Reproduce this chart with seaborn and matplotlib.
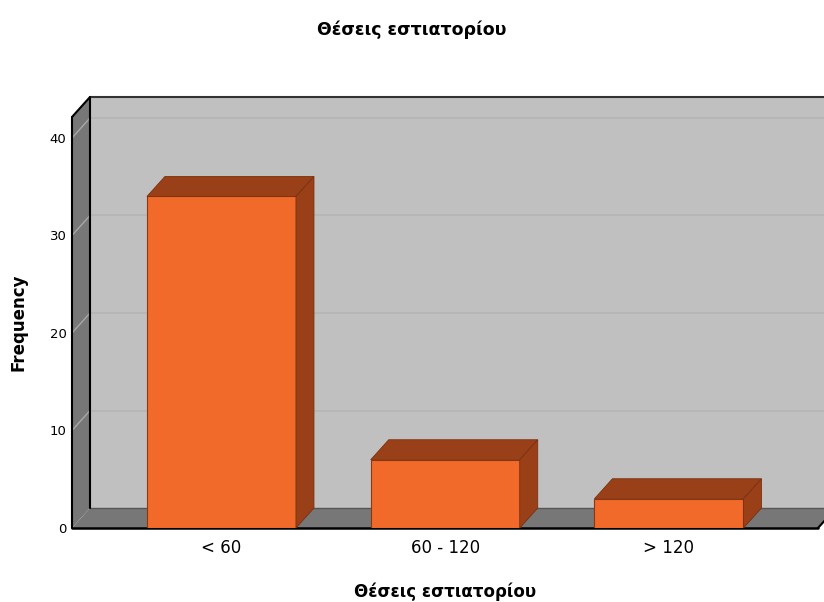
import matplotlib
matplotlib.use("Agg")
import matplotlib.pyplot as plt
import seaborn as sns
import pandas as pd
from matplotlib.patches import Polygon, Rectangle

categories = ["< 60", "60 - 120", "> 120"]
frequencies = [34, 7, 3]
title = "Θέσεις εστιατορίου"
x_label = "Θέσεις εστιατορίου"
y_label = "Frequency"
y_ticks = [0, 10, 20, 30, 40]

sns.set_theme(style="white")
plt.rcParams["font.family"] = ["DejaVu Sans"]
plt.rcParams["text.color"] = "black"
plt.rcParams["xtick.color"] = "black"
plt.rcParams["ytick.color"] = "black"

df = pd.DataFrame({"cat": categories, "freq": frequencies})

W, H = 824, 602
fig = plt.figure(figsize=(W / 100, H / 100), dpi=100)
ax = fig.add_axes([72 / W, (H - 528) / H, (818 - 72) / W, (528 - 117) / H])

xmin, xmax = -0.668, 2.666
ymin, ymax = 0, 42.15
dx, dy = 0.0804, 2.05

front = "#f26a2a"
dark = "#9a4019"
wall = "#c0c0c0"
side = "#777777"

# back wall
ax.add_patch(Rectangle((xmin + dx, dy), (xmax - xmin), ymax, facecolor=wall,
                       edgecolor="none", clip_on=False, zorder=0))
# back wall gridlines
for v in y_ticks[1:]:
    ax.plot([xmin + dx, xmax + dx], [v + dy, v + dy], color="#b4b4b4", lw=1.2,
            clip_on=False, zorder=0.5)
# left wall
ax.add_patch(Polygon([(xmin, 0), (xmin + dx, dy), (xmin + dx, ymax + dy), (xmin, ymax)],
                     closed=True, facecolor=side, edgecolor="none", clip_on=False, zorder=1))
for v in y_ticks[1:]:
    ax.plot([xmin, xmin + dx], [v, v + dy], color="#a8a8a8", lw=1, clip_on=False, zorder=1.2)
# floor
ax.add_patch(Polygon([(xmin, 0), (xmax, 0), (xmax + dx, dy), (xmin + dx, dy)],
                     closed=True, facecolor=side, edgecolor="none", clip_on=False, zorder=1))
# edges
ax.plot([xmin + dx, xmax + dx], [dy, dy], color="#555555", lw=1, clip_on=False, zorder=1.5)
ax.plot([xmin + dx, xmin + dx], [dy, ymax + dy], color="black", lw=1.5, clip_on=False, zorder=1.5)
ax.plot([xmin + dx, xmax + dx], [ymax + dy, ymax + dy], color="#333333", lw=1.5, clip_on=False, zorder=1.5)
ax.plot([xmin, xmin + dx], [ymax, ymax + dy], color="black", lw=1.5, clip_on=False, zorder=1.5)
ax.plot([xmin, xmin], [0, ymax], color="black", lw=1.5, clip_on=False, zorder=1.5)
ax.plot([xmin, xmax], [0, 0], color="black", lw=1.8, clip_on=False, zorder=1.5)
ax.plot([xmax, xmax + dx], [0, dy], color="black", lw=1.5, clip_on=False, zorder=1.5)

sns.barplot(data=df, x="cat", y="freq", ax=ax, color=front, saturation=1,
            width=0.666, edgecolor="#8a3812", linewidth=0.8, zorder=3)

for p in ax.patches:
    if not isinstance(p, Rectangle) or p.get_zorder() != 3:
        continue
    x0 = p.get_x(); w = p.get_width(); h = p.get_height()
    top = Polygon([(x0, h), (x0 + dx, h + dy), (x0 + w + dx, h + dy), (x0 + w, h)],
                  closed=True, facecolor=dark, edgecolor="#7a3010", lw=0.6, zorder=3, clip_on=False)
    sd = Polygon([(x0 + w, 0), (x0 + w + dx, dy), (x0 + w + dx, h + dy), (x0 + w, h)],
                 closed=True, facecolor=dark, edgecolor="#7a3010", lw=0.6, zorder=3, clip_on=False)
    ax.add_patch(top)
    ax.add_patch(sd)

ax.set_xlim(xmin, xmax)
ax.set_ylim(ymin, ymax)
ax.set_yticks(y_ticks)
ax.set_yticklabels([str(v) for v in y_ticks], fontsize=9.5, color="black")
ax.tick_params(axis="y", length=0, pad=4, labelcolor="black")
ax.tick_params(axis="x", length=0, pad=8, labelsize=12, labelcolor="black")
for s in ax.spines.values():
    s.set_visible(False)
ax.set_facecolor("none")
ax.set_xlabel("")
ax.set_ylabel("")

fig.text(412 / W, 1 - 30 / H, title, ha="center", va="center", fontsize=12.5,
         fontweight="bold", color="black")
fig.text(445 / W, 1 - 592 / H, x_label, ha="center", va="center", fontsize=12,
         fontweight="bold", color="black")
fig.text(19 / W, 1 - 322 / H, y_label, ha="center", va="center", rotation=90,
         fontsize=12, fontweight="bold", color="black")

fig.savefig("out.png", dpi=100)
